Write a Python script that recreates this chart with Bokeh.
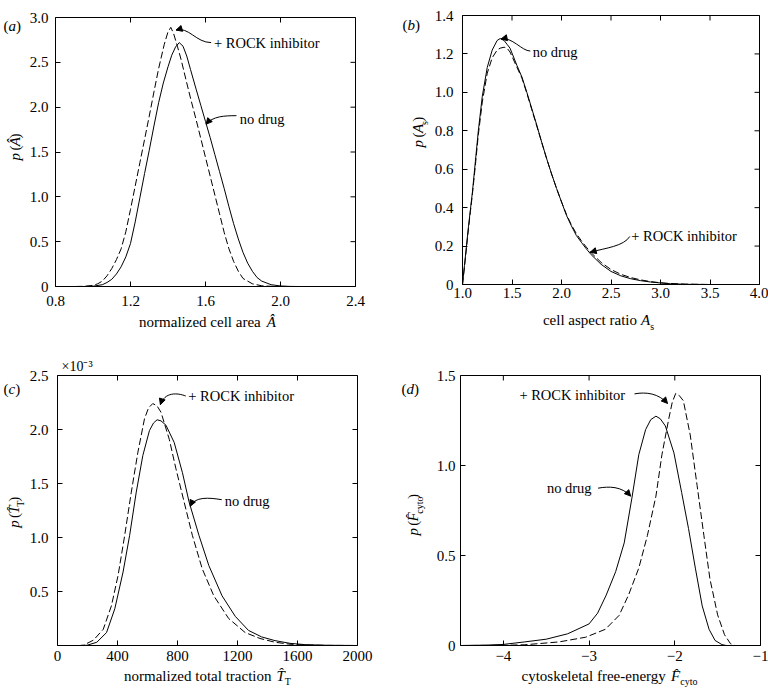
import numpy as np
from bokeh.plotting import figure
from bokeh.layouts import column, row
from bokeh.models import Label, Arrow, NormalHead, FixedTicker, Range1d
from bokeh.embed import file_html
from bokeh.resources import INLINE

FONT = "Liberation Serif"
INK = "black"

# ---------------- data: panel (a) normalized cell area ----------------
a_x_nodrug = [0.80, 0.95, 1.00, 1.05, 1.075, 1.10, 1.125, 1.15, 1.175, 1.20, 1.225, 1.25, 1.275, 1.30,
              1.325, 1.35, 1.375, 1.40, 1.42, 1.44, 1.46, 1.48, 1.50, 1.52, 1.55, 1.575, 1.60, 1.625,
              1.65, 1.675, 1.70, 1.725, 1.75, 1.775, 1.80, 1.825, 1.85, 1.875, 1.90, 1.95, 2.00, 2.05,
              2.10, 2.40]
a_y_nodrug = [0, 0, 0.003, 0.02, 0.045, 0.08, 0.14, 0.22, 0.33, 0.48, 0.72, 0.99, 1.26, 1.52,
              1.79, 2.05, 2.27, 2.45, 2.58, 2.67, 2.72, 2.68, 2.57, 2.42, 2.20, 2.02, 1.84, 1.66,
              1.47, 1.28, 1.09, 0.89, 0.70, 0.53, 0.38, 0.26, 0.17, 0.10, 0.06, 0.02, 0.006, 0.001,
              0, 0]
a_x_rock = [0.80, 0.90, 0.95, 1.00, 1.025, 1.05, 1.075, 1.10, 1.125, 1.15, 1.175, 1.20, 1.225, 1.25,
            1.275, 1.30, 1.325, 1.35, 1.38, 1.40, 1.415, 1.43, 1.45, 1.47, 1.50, 1.525, 1.55, 1.575,
            1.60, 1.625, 1.65, 1.675, 1.70, 1.725, 1.75, 1.775, 1.80, 1.85, 1.90, 1.95, 2.00, 2.40]
a_y_rock = [0, 0, 0.002, 0.012, 0.03, 0.06, 0.12, 0.20, 0.30, 0.42, 0.61, 0.86, 1.12, 1.38,
            1.64, 1.90, 2.17, 2.43, 2.70, 2.84, 2.89, 2.82, 2.68, 2.53, 2.27, 2.06, 1.86, 1.65,
            1.44, 1.23, 1.02, 0.81, 0.60, 0.42, 0.28, 0.17, 0.09, 0.03, 0.008, 0.002, 0, 0]
a_xticks = [0.8, 1.2, 1.6, 2.0, 2.4]
a_xtick_labels = ["0.8", "1.2", "1.6", "2.0", "2.4"]
a_yticks = [0, 0.5, 1.0, 1.5, 2.0, 2.5, 3.0]
a_ytick_labels = ["0", "0.5", "1.0", "1.5", "2.0", "2.5", "3.0"]

# ---------------- data: panel (b) cell aspect ratio ----------------
b_x = [1.00, 1.02, 1.04, 1.06, 1.08, 1.10, 1.13, 1.16, 1.20, 1.25, 1.30, 1.35, 1.38, 1.42, 1.45,
       1.48, 1.55, 1.60, 1.65, 1.70, 1.75, 1.80, 1.85, 1.90, 1.95, 2.00, 2.05, 2.10, 2.15, 2.20,
       2.25, 2.30, 2.40, 2.50, 2.60, 2.70, 2.80, 2.90, 3.00, 3.10, 3.25, 3.50, 4.00]
b_y_nodrug = [0, 0.10, 0.20, 0.30, 0.39, 0.48, 0.64, 0.80, 0.98, 1.13, 1.22, 1.27, 1.28, 1.27, 1.25,
              1.23, 1.14, 1.08, 1.00, 0.915, 0.83, 0.74, 0.655, 0.575, 0.50, 0.43, 0.36, 0.305, 0.255, 0.22,
              0.186, 0.155, 0.105, 0.068, 0.045, 0.03, 0.02, 0.013, 0.008, 0.004, 0.001, 0, 0]
b_y_rock = [0, 0.09, 0.19, 0.29, 0.38, 0.47, 0.62, 0.78, 0.95, 1.10, 1.18, 1.22, 1.23, 1.235, 1.23,
            1.21, 1.13, 1.075, 0.995, 0.91, 0.825, 0.74, 0.655, 0.575, 0.50, 0.43, 0.365, 0.31, 0.265, 0.228,
            0.195, 0.165, 0.115, 0.078, 0.053, 0.036, 0.024, 0.015, 0.009, 0.005, 0.002, 0, 0]
b_xticks = [1.0, 1.5, 2.0, 2.5, 3.0, 3.5, 4.0]
b_xtick_labels = ["1.0", "1.5", "2.0", "2.5", "3.0", "3.5", "4.0"]
b_yticks = [0, 0.2, 0.4, 0.6, 0.8, 1.0, 1.2, 1.4]
b_ytick_labels = ["0", "0.2", "0.4", "0.6", "0.8", "1.0", "1.2", "1.4"]

# ---------------- data: panel (c) normalized total traction (x 10^-3) ----------------
c_x_nodrug = [0, 150, 196, 262, 327, 382, 437, 481, 525, 569, 613, 640, 664, 690, 723, 778, 833, 877,
              943, 1009, 1097, 1185, 1273, 1360, 1450, 1550, 1650, 1800, 2000]
c_y_nodrug = [0, 0, 0.002, 0.03, 0.12, 0.34, 0.68, 1.02, 1.42, 1.76, 1.99, 2.06, 2.09, 2.08, 2.04, 1.88,
              1.60, 1.33, 1.02, 0.74, 0.46, 0.27, 0.14, 0.08, 0.045, 0.02, 0.008, 0.002, 0]
c_x_rock = [0, 150, 174, 240, 305, 360, 404, 448, 492, 536, 580, 607, 635, 663, 690, 745, 789, 844,
            899, 965, 1042, 1141, 1251, 1350, 1450, 1550, 1650, 1800, 2000]
c_y_rock = [0, 0, 0.003, 0.05, 0.15, 0.37, 0.65, 1.02, 1.42, 1.79, 2.10, 2.20, 2.24, 2.22, 2.16, 1.91,
            1.64, 1.33, 1.02, 0.71, 0.46, 0.25, 0.12, 0.065, 0.03, 0.012, 0.004, 0.001, 0]
c_xticks = [0, 400, 800, 1200, 1600, 2000]
c_xtick_labels = ["0", "400", "800", "1200", "1600", "2000"]
c_yticks = [0.5, 1.0, 1.5, 2.0, 2.5]
c_ytick_labels = ["0.5", "1.0", "1.5", "2.0", "2.5"]
c_scale_text = "\u00d710\u207b\u00b3"

# ---------------- data: panel (d) cytoskeletal free-energy ----------------
d_x_nodrug = [-4.5, -4.2, -4.0, -3.75, -3.5, -3.25, -3.0, -2.9, -2.8, -2.69, -2.59, -2.5, -2.42, -2.34,
              -2.28, -2.22, -2.17, -2.11, -2.01, -1.92, -1.84, -1.76, -1.68, -1.6, -1.53, -1.45, -1.4, -1.0]
d_y_nodrug = [0, 0.002, 0.006, 0.02, 0.035, 0.065, 0.12, 0.18, 0.28, 0.41, 0.57, 0.82, 1.06, 1.20,
              1.255, 1.274, 1.26, 1.22, 1.07, 0.85, 0.65, 0.43, 0.22, 0.09, 0.028, 0.005, 0, 0]
d_x_rock = [-4.5, -4.0, -3.75, -3.35, -3.04, -2.81, -2.65, -2.54, -2.42, -2.32, -2.22, -2.15, -2.07,
            -2.03, -1.99, -1.95, -1.9, -1.82, -1.74, -1.66, -1.59, -1.5, -1.42, -1.35, -1.3, -1.0]
d_y_rock = [0, 0.001, 0.004, 0.02, 0.046, 0.09, 0.167, 0.28, 0.43, 0.61, 0.83, 1.06, 1.26,
            1.35, 1.40, 1.39, 1.36, 1.17, 0.89, 0.61, 0.37, 0.17, 0.06, 0.01, 0, 0]
d_xticks = [-4, -3, -2, -1]
d_xtick_labels = ["\u22124", "\u22123", "\u22122", "\u22121"]
d_yticks = [0, 0.5, 1.0, 1.5]
d_ytick_labels = ["0", "0.5", "1.0", "1.5"]

# ---------------- annotations (text + curved arrows, data units) ----------------
note_text = ["+ ROCK inhibitor", "no drug"]
a_note_x, a_note_y = [1.645, 1.783], [2.72, 1.87]
a_arr = dict(x0=[1.63, 1.765], y0=[2.72, 1.905], cx0=[1.55, 1.70], cy0=[2.72, 1.905],
             cx1=[1.51, 1.64], cy1=[2.90, 1.90], x1=[1.443, 1.603], y1=[2.86, 1.81])
b_note_x, b_note_y = [2.705, 1.709], [0.255, 1.209]
b_arr = dict(x0=[2.69, 1.685], y0=[0.25, 1.215], cx0=[2.63, 1.60], cy0=[0.20, 1.215],
             cx1=[2.45, 1.50], cy1=[0.19, 1.29], x1=[2.29, 1.39], y1=[0.168, 1.278])
c_note_x, c_note_y = [872, 1115], [2.31, 1.34]
c_arr = dict(x0=[855, 1095], y0=[2.31, 1.35], cx0=[800, 1010], cy0=[2.34, 1.37],
             cx1=[715, 915], cy1=[2.35, 1.38], x1=[686, 885], y1=[2.23, 1.29])
d_note_x, d_note_y = [-3.813, -3.492], [1.393, 0.874]
d_arr = dict(x0=[-2.47, -2.895], y0=[1.398, 0.874], cx0=[-2.33, -2.77], cy0=[1.41, 0.885],
             cx1=[-2.19, -2.62], cy1=[1.40, 0.885], x1=[-2.085, -2.515], y1=[1.345, 0.83])

# ---------------- text metrics (Times-compatible) ----------------
ROMAN_W = {' ': 250, '(': 333, ')': 333, '+': 564, '-': 333, '.': 250, '\u00d7': 564, '\u2212': 564,
           'a': 444, 'b': 500, 'c': 444, 'd': 500, 'e': 444, 'f': 333, 'g': 500, 'h': 500, 'i': 278,
           'k': 500, 'l': 278, 'm': 778, 'n': 500, 'o': 500, 'p': 500, 'r': 333, 's': 389, 't': 278,
           'u': 500, 'v': 500, 'y': 500, 'z': 444, 'x': 500, 'A': 722, 'T': 611, 'F': 556}
ITALIC_W = {'p': 500, 'a': 500, 'b': 500, 'c': 444, 'd': 500, 'A': 611, '\u00c2': 611, 'T': 556, 'F': 611}
MID = 0.3375  # distance from the baseline up to the middle of the font box, in em


def text_width(s, size, italic):
    tot = 0
    for ch in s:
        if ch == '\u0302':
            continue
        if italic and ch in ITALIC_W:
            tot += ITALIC_W[ch]
        else:
            tot += ROMAN_W.get(ch, 500)
    return tot * size / 1000.0


def text_fig(w, h):
    """A bare canvas whose data units are pixels; it holds the texts that sit outside the plot frames."""
    f = figure(width=w, height=h, x_range=Range1d(0, w), y_range=Range1d(0, h),
               min_border=0, x_axis_location=None, y_axis_location=None,
               toolbar_location=None, tools="", output_backend="svg",
               outline_line_color=None, background_fill_color="white", border_fill_color="white")
    f.grid.visible = False
    return f


def rich(f, items, x, y, align="center", vertical=False):
    """x, y: start (or centre) of the text baseline, in the text canvas' pixel units."""
    total = 0
    for it in items:
        total += it if isinstance(it, (int, float)) else text_width(it[0], it[2], it[1])
    pos = -total / 2 if align == "center" else 0
    for it in items:
        if isinstance(it, (int, float)):
            pos += it
            continue
        txt, ital, size, shift = it
        up = shift + MID * size
        if vertical:
            lx, ly, ang = x - up, y + pos, np.pi / 2
        else:
            lx, ly, ang = x + pos, y + up, 0
        f.add_layout(Label(x=lx, y=ly, text=txt, angle=ang,
                           text_font=FONT, text_font_size=f"{size}px",
                           text_font_style="italic" if ital else "normal",
                           text_align="left", text_baseline="middle", text_color=INK))
        pos += text_width(txt, size, ital)


def make_panel(width, height, borders, xr, yr, xt, xtl, yt, ytl, xstand, ystand):
    left, right, top, bottom = borders
    p = figure(width=width, height=height, x_range=Range1d(*xr), y_range=Range1d(*yr),
               output_backend="svg", toolbar_location=None, tools="",
               min_border_left=left, min_border_right=right,
               min_border_top=top, min_border_bottom=bottom)
    p.background_fill_color = "white"
    p.border_fill_color = "white"
    p.outline_line_color = INK
    p.outline_line_width = 1
    p.grid.visible = False
    for ax, ticks, labels, st in ((p.xaxis[0], xt, xtl, xstand), (p.yaxis[0], yt, ytl, ystand)):
        ax.ticker = FixedTicker(ticks=ticks)
        ax.major_label_overrides = {t: l for t, l in zip(ticks, labels)}
        ax.axis_line_color = None
        ax.major_tick_in = 5
        ax.major_tick_out = 0
        ax.major_tick_line_color = INK
        ax.minor_tick_line_color = None
        ax.major_label_text_font = FONT
        ax.major_label_text_font_size = "15px"
        ax.major_label_text_color = INK
        ax.major_label_standoff = st
    # mirrored inward ticks on top and right (half of each dash is clipped by the frame)
    p.scatter(x=xt, y=[yr[1]] * len(xt), marker="dash", angle=np.pi / 2, size=10,
              line_color=INK, line_width=1)
    p.scatter(x=[xr[1]] * len(yt), y=yt, marker="dash", size=10, line_color=INK, line_width=1)
    return p


def curves(p, x1, y1, x2, y2):
    p.line(x1, y1, line_color=INK, line_width=1)
    p.line(x2, y2, line_color=INK, line_width=1, line_dash="7 3")


def notes(p, xs, ys, arr):
    for t, x, y in zip(note_text, xs, ys):
        p.add_layout(Label(x=x, y=y, text=t, text_font=FONT, text_font_size="14.5px",
                           text_align="left", text_baseline="middle", text_color=INK))
    p.bezier(x0=arr["x0"], y0=arr["y0"], x1=arr["x1"], y1=arr["y1"],
             cx0=arr["cx0"], cy0=arr["cy0"], cx1=arr["cx1"], cy1=arr["cy1"],
             line_color=INK, line_width=1)
    for i in range(len(arr["x1"])):
        p.add_layout(Arrow(end=NormalHead(size=6, fill_color=INK, line_color=INK, line_width=1),
                           line_color=None, x_start=arr["cx1"][i], y_start=arr["cy1"][i],
                           x_end=arr["x1"][i], y_end=arr["y1"][i]))


R, I = False, True

# ---------------- panel (a) ----------------
pa = make_panel(358, 313, (28, 29, 17, 27), (0.8, 2.4), (0, 3.0),
                a_xticks, a_xtick_labels, a_yticks, a_ytick_labels, 9, 7)
curves(pa, a_x_nodrug, a_y_nodrug, a_x_rock, a_y_rock)
notes(pa, a_note_x, a_note_y, a_arr)
ya = text_fig(26, 313)
rich(ya, [("p", I, 15, 0), 4, ("(", R, 15, 0), ("\u00c2", I, 15, 0), (")", R, 15, 0)], 20, 162,
     vertical=True)
rich(ya, [("(", R, 15, 0), ("a", I, 15, 0), (")", R, 15, 0)], 3, 297.5, align="left")
xa = text_fig(384, 35)
rich(xa, [("normalized cell area", R, 15, 0), 6, ("\u00c2", I, 15, 0)], 207, 21.5)
col_a = column(row(ya, pa), xa)

# ---------------- panel (b) ----------------
pb = make_panel(337, 306, (29, 9, 15, 22), (1.0, 4.0), (0, 1.4),
                b_xticks, b_xtick_labels, b_yticks, b_ytick_labels, 3, 9)
curves(pb, b_x, b_y_nodrug, b_x, b_y_rock)
notes(pb, b_note_x, b_note_y, b_arr)
yb = text_fig(47, 306)
rich(yb, [("p", I, 15, 0), 4, ("(", R, 15, 0), ("A", I, 15, 0), ("s", R, 10, -4), (")", R, 15, 0)],
     39, 173, vertical=True)
rich(yb, [("(", R, 15, 0), ("b", I, 15, 0), (")", R, 15, 0)], 18, 290.5, align="left")
xb = text_fig(384, 42)
rich(xb, [("cell aspect ratio", R, 15, 0), 4, ("A", I, 15, 0), ("s", R, 10, -4)], 214, 23)
col_b = column(row(yb, pb), xb)

# ---------------- panel (c) ----------------
pc = make_panel(358, 319, (29, 27, 27, 22), (0, 2000), (0, 2.5),
                c_xticks, c_xtick_labels, c_yticks, c_ytick_labels, 5, 9)
pc.title.text = c_scale_text
pc.title.align = "left"
pc.title.offset = 4
pc.title.standoff = 3
pc.title.text_font = FONT
pc.title.text_font_size = "14px"
pc.title.text_font_style = "normal"
pc.title.text_color = INK
curves(pc, c_x_nodrug, c_y_nodrug, c_x_rock, c_y_rock)
notes(pc, c_note_x, c_note_y, c_arr)
yc = text_fig(26, 319)
rich(yc, [("p", I, 15, 0), 4, ("(", R, 15, 0), ("T\u0302", I, 15, 0), ("T", R, 10, -4), (")", R, 15, 0)],
     19, 157, vertical=True)
rich(yc, [("(", R, 15, 0), ("c", I, 15, 0), (")", R, 15, 0)], 3, 297.5, align="left")
xc = text_fig(384, 26)
rich(xc, [("normalized total traction", R, 15, 0), 5, ("T\u0302", I, 15, 0), ("T", R, 10, -4)], 207, 12.5)
col_c = column(row(yc, pc), xc)

# ---------------- panel (d) ----------------
pd_ = make_panel(335, 319, (25, 8, 27, 22), (-4.5, -1.0), (0, 1.5),
                 d_xticks, d_xtick_labels, d_yticks, d_ytick_labels, 5, 5)
curves(pd_, d_x_nodrug, d_y_nodrug, d_x_rock, d_y_rock)
notes(pd_, d_note_x, d_note_y, d_arr)
yd = text_fig(49, 319)
rich(yd, [("p", I, 15, 0), 4, ("(", R, 15, 0), ("F\u0302", I, 15, 0), ("cyto", R, 10, -4), (")", R, 15, 0)],
     34, 154, vertical=True)
rich(yd, [("(", R, 15, 0), ("d", I, 15, 0), (")", R, 15, 0)], 17, 297.5, align="left")
xd = text_fig(384, 26)
rich(xd, [("cytoskeletal free-energy", R, 15, 0), 5, ("F\u0302", I, 15, 0), ("cyto", R, 10, -4)], 225, 12.5)
col_d = column(row(yd, pd_), xd)

layout = column(row(col_a, col_b), row(col_c, col_d))
open("out.html", "w").write(file_html(layout, INLINE))
